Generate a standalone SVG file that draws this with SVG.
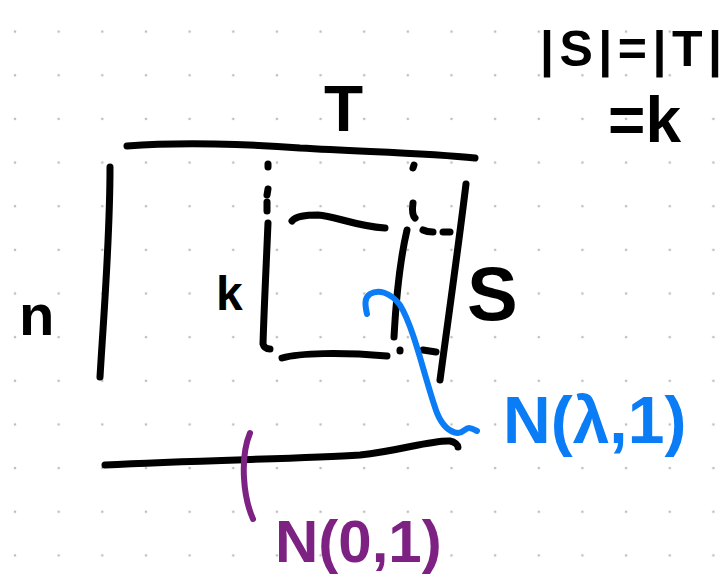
<svg xmlns="http://www.w3.org/2000/svg" width="728" height="577" viewBox="0 0 728 577">
<defs>
<pattern id="dots" x="-6.825" y="9.775" width="43.65" height="43.65" patternUnits="userSpaceOnUse">
<circle cx="21.825" cy="21.825" r="1.3" fill="#bdbdbd"/>
</pattern>
<style>
.ink{fill:none;stroke:#000;stroke-width:7;stroke-linecap:round;stroke-linejoin:round}
.blue{fill:none;stroke:#0a7cf5;stroke-width:6;stroke-linecap:round;stroke-linejoin:round}
.purple{fill:none;stroke:#7d2183;stroke-width:6;stroke-linecap:round;stroke-linejoin:round}
.t{font-family:"Liberation Sans",Arial,sans-serif;font-weight:bold;fill:#000}
.tb{font-family:"Liberation Sans",Arial,sans-serif;font-weight:bold;fill:#0a7cf5}
.tp{font-family:"Liberation Sans",Arial,sans-serif;font-weight:bold;fill:#7d2183}
</style>
</defs>
<rect width="728" height="577" fill="#fff"/>
<rect width="728" height="577" fill="url(#dots)"/>

<g id="outer-box">
<path class="ink" d="M127,146 C180,142 250,144 300,148 C370,152 430,153 475,158"/>
<path class="ink" d="M110,167 C110,240 104,310 100,377"/>
<path class="ink" d="M466,184 C458,250 448,320 440,380"/>
<path class="ink" d="M105,465 C200,460 300,459 360,455 C400,451 430,440 450,441 C455,442 458,445 458,447"/>
</g>

<g id="inner-box">
<path class="ink" d="M268,164 L268,167"/>
<path class="ink" d="M268,189 L267,195"/>
<path class="ink" d="M267,202 L267,211"/>
<path class="ink" d="M268,223 C266,270 264,310 263,344 C264,348 267,349 270,349"/>
<path class="ink" d="M292,221 C296,216 305,215 318,215 C335,216 355,226 385,228"/>
<path class="ink" d="M282,358 C300,353 340,352 387,356"/>
<path class="ink" d="M414,165 L413,168"/>
<path class="ink" d="M413,203 C412,210 412,215 415,218"/>
<path class="ink" d="M407,230 C400,260 396,300 394,337"/>
<path class="ink" d="M400,350 L400,351"/>
<path class="ink" d="M423,230 C427,232 430,232 433,232"/>
<path class="ink" d="M443,232 L450,232"/>
<path class="ink" d="M423,350 L436,352"/>
</g>

<g id="labels">
<text class="t" x="324" y="131" font-size="64">T</text>
<text class="t" x="19" y="335" font-size="58">n</text>
<text class="t" x="216" y="310" font-size="48">k</text>
<text class="t" x="467" y="320" font-size="76">S</text>
<text class="t" x="540" y="66" font-size="50" textLength="182" lengthAdjust="spacing">|S|=|T|</text>
<text class="t" x="608" y="142" font-size="64">=k</text>
</g>

<g id="blue-annotation">
<path class="blue" d="M367,314 C365,305 364,298 370,294 C378,289 390,292 400,305 C415,330 425,380 437,413 C442,425 448,432 458,433 C463,433 465,428 469,428 C472,428 475,430 477,431"/>
<text class="tb" x="503" y="443" font-size="66">N(λ,1)</text>
</g>

<g id="purple-annotation">
<path class="purple" d="M250,433 C245,445 243,460 244,478 C245,495 249,510 253,519"/>
<text class="tp" x="275" y="562" font-size="60">N(0,1)</text>
</g>
</svg>
